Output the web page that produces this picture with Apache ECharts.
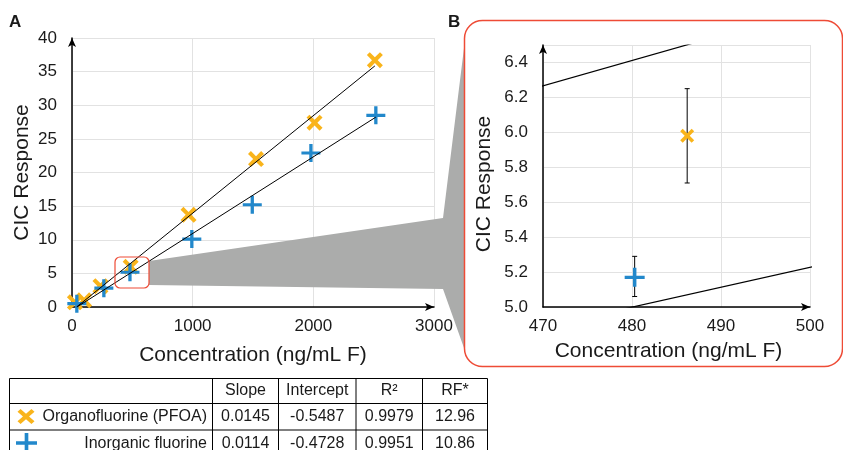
<!DOCTYPE html>
<html>
<head>
<meta charset="utf-8">
<script src="https://cdn.jsdelivr.net/npm/echarts@6/dist/echarts.min.js"></script>
<style>
html, body { margin: 0; padding: 0; background: #fff; }
#chart { width: 843px; height: 450px; }
</style>
</head>
<body>
<div id="chart"></div>
<script>
// calibration points
var orgX = [24, 100, 236, 486.2, 966, 1525, 2010, 2510];
var orgY = [0.7, 1.0, 3.1, 5.98, 13.7, 22.0, 27.4, 36.7];
var inoX = [40, 264, 480.3, 993, 1494, 1980, 2518];
var inoY = [0.5, 2.8, 5.17, 10.1, 15.2, 22.9, 28.5];
// error bars shown in the zoomed panel: [x, low, high]
var orgErr = [[486.2, 5.71, 6.25]];
var inoErr = [[480.3, 5.06, 5.29]];

// fit table
var rowNames = ['Organofluorine (PFOA)', 'Inorganic fluorine'];
var tableHeader = ['Slope', 'Intercept', 'R\u00b2', 'RF*'];
var slope = [0.0145, 0.0114];
var intercept = [-0.5487, -0.4728];
var r2 = [0.9979, 0.9951];
var rf = [12.96, 10.86];
var fitRange = [[38, 2510], [41.5, 2518]];

var ORANGE = '#f9b41b';
var BLUE = '#2288cb';
var RED = '#ee4b36';
var TXT = '#1a1a1a';
var FONT = '"Liberation Sans", Arial, sans-serif';

// marker outlines on a 10x10 box
var xPts = [[0,1.8],[1.8,0],[5,3.2],[8.2,0],[10,1.8],[6.8,5],[10,8.2],[8.2,10],[5,6.8],[1.8,10],[0,8.2],[3.2,5]];
var plusPts = [[4.13,0],[5.87,0],[5.87,4.13],[10,4.13],[10,5.87],[5.87,5.87],[5.87,10],[4.13,10],[4.13,5.87],[0,5.87],[0,4.13],[4.13,4.13]];
function toPath(pts) {
    return 'path://M' + pts.map(function (p) { return p[0] + ',' + p[1]; }).join('L') + 'Z';
}
function placePts(pts, cx, cy, w, h) {
    return pts.map(function (p) { return [cx + (p[0] - 5) * w / 10, cy + (p[1] - 5) * h / 10]; });
}
var xPath = toPath(xPts);
var plusPath = toPath(plusPts);

function zip(xs, ys) {
    return xs.map(function (x, i) { return [x, ys[i]]; });
}
function fitLine(i) {
    return fitRange[i].map(function (x) { return [x, slope[i] * x + intercept[i]]; });
}

function makeX(grid, min, max, interval, gap, pad) {
    return {
        gridIndex: grid, type: 'value', min: min, max: max, interval: interval,
        name: 'Concentration (ng/mL F)', nameLocation: 'middle', nameGap: gap,
        nameTextStyle: { fontSize: 21, color: TXT, fontFamily: FONT, padding: pad },
        axisLine: { show: true, onZero: false, symbol: ['none', 'arrow'], symbolSize: [6, 9],
            lineStyle: { color: '#000', width: 1.5 } },
        axisTick: { show: false },
        axisLabel: { fontSize: 17, color: TXT, fontFamily: FONT, margin: 11,
            formatter: function (v) { return String(v); } },
        splitLine: { show: true, lineStyle: { color: '#e2e2e2', width: 1 } }
    };
}
function makeY(grid, min, max, interval, gap, pad, fmt) {
    return {
        gridIndex: grid, type: 'value', min: min, max: max, interval: interval,
        name: 'CIC Response', nameLocation: 'middle', nameGap: gap,
        nameTextStyle: { fontSize: 21, color: TXT, fontFamily: FONT, padding: pad },
        axisLine: { show: true, onZero: false, symbol: ['none', 'arrow'], symbolSize: [6, 9],
            lineStyle: { color: '#000', width: 1.5 } },
        axisTick: { show: false },
        axisLabel: { fontSize: 17, color: TXT, fontFamily: FONT, margin: 15, formatter: fmt },
        splitLine: { show: true, lineStyle: { color: '#e2e2e2', width: 1 } }
    };
}

function renderErr(params, api) {
    var top = api.coord([api.value(0), api.value(2)]);
    var bot = api.coord([api.value(0), api.value(1)]);
    var c = 2.5;
    var st = { stroke: '#000', lineWidth: 1 };
    return {
        type: 'group',
        children: [
            { type: 'line', shape: { x1: top[0], y1: top[1], x2: bot[0], y2: bot[1] }, style: st },
            { type: 'line', shape: { x1: top[0] - c, y1: top[1], x2: top[0] + c, y2: top[1] }, style: st },
            { type: 'line', shape: { x1: bot[0] - c, y1: bot[1], x2: bot[0] + c, y2: bot[1] }, style: st }
        ]
    };
}

// table graphics
var colX = [9.5, 212.5, 278.5, 356, 422.5, 487.5];
var rowY = [378.5, 403.5, 430, 457];
var rowMid = [391, 417, 443.5];
var tableEls = [];
colX.forEach(function (x) {
    tableEls.push({ type: 'line', shape: { x1: x, y1: rowY[0], x2: x, y2: 460 },
        style: { stroke: '#000', lineWidth: 1 } });
});
rowY.forEach(function (y) {
    tableEls.push({ type: 'line', shape: { x1: colX[0], y1: y, x2: colX[5], y2: y },
        style: { stroke: '#000', lineWidth: 1 } });
});
function cellText(txt, x, y, align) {
    return { type: 'text', style: { text: txt, x: x, y: y, fill: TXT,
        font: '16px ' + FONT, align: align, textAlign: align,
        verticalAlign: 'middle', textVerticalAlign: 'middle' } };
}
tableHeader.forEach(function (h, j) {
    tableEls.push(cellText(h, (colX[j + 1] + colX[j + 2]) / 2, rowMid[0], 'center'));
});
rowNames.forEach(function (n, i) {
    var y = rowMid[i + 1];
    tableEls.push(cellText(n, 207, y, 'right'));
    var vals = [slope[i].toFixed(4), intercept[i].toFixed(4), r2[i].toFixed(4), rf[i].toFixed(2)];
    vals.forEach(function (v, j) {
        tableEls.push(cellText(v, (colX[j + 1] + colX[j + 2]) / 2, y, 'center'));
    });
});
tableEls.push({ type: 'polygon', shape: { points: placePts(xPts, 26, 416.5, 17, 15) },
    style: { fill: ORANGE } });
tableEls.push({ type: 'polygon', shape: { points: placePts(plusPts, 26.5, 443, 21, 20) },
    style: { fill: BLUE } });

var chart = echarts.init(document.getElementById('chart'), null, { renderer: 'canvas' });

var option = {
    animation: false,
    backgroundColor: '#fff',
    textStyle: { fontFamily: FONT },
    grid: [
        { left: 72, right: 409, top: 38, bottom: 143, outerBoundsMode: 'none' },
        { left: 543, right: 33, top: 45, bottom: 143, outerBoundsMode: 'none' }
    ],
    xAxis: [
        makeX(0, 0, 3000, 1000, 38, [0, 0, 0, 0]),
        makeX(1, 470, 500, 10, 34, [0, 16, 0, 0])
    ],
    yAxis: [
        makeY(0, 0, 40, 5, 39, [0, 0, 0, 0]),
        makeY(1, 5, 6.5, 0.2, 48, [0, 16, 0, 0], function (v) {
            return Math.abs(v - 6.5) < 1e-6 ? '' : v.toFixed(1);
        })
    ],
    series: [
        { type: 'scatter', xAxisIndex: 0, yAxisIndex: 0, data: zip(orgX, orgY),
          symbol: xPath, symbolSize: 16, itemStyle: { color: ORANGE, opacity: 1 }, z: 3 },
        { type: 'scatter', xAxisIndex: 0, yAxisIndex: 0, data: zip(inoX, inoY),
          symbol: plusPath, symbolSize: [19, 18], itemStyle: { color: BLUE, opacity: 1 }, z: 3 },
        { type: 'line', xAxisIndex: 0, yAxisIndex: 0, data: fitLine(0), symbol: 'none',
          lineStyle: { color: '#000', width: 1 }, z: 4, silent: true },
        { type: 'line', xAxisIndex: 0, yAxisIndex: 0, data: fitLine(1), symbol: 'none',
          lineStyle: { color: '#000', width: 1 }, z: 4, silent: true },

        { type: 'custom', xAxisIndex: 1, yAxisIndex: 1, data: orgErr.concat(inoErr),
          renderItem: renderErr, encode: { x: 0, y: [1, 2] }, z: 2, clip: true },
        { type: 'scatter', xAxisIndex: 1, yAxisIndex: 1, data: zip(orgX, orgY), clip: true,
          symbol: xPath, symbolSize: 14, itemStyle: { color: ORANGE, opacity: 1 }, z: 3 },
        { type: 'scatter', xAxisIndex: 1, yAxisIndex: 1, data: zip(inoX, inoY), clip: true,
          symbol: plusPath, symbolSize: [20, 19], itemStyle: { color: BLUE, opacity: 1 }, z: 3 },
        { type: 'line', xAxisIndex: 1, yAxisIndex: 1, data: fitLine(0), symbol: 'none', clip: true,
          lineStyle: { color: '#000', width: 1.2 }, z: 4, silent: true },
        { type: 'line', xAxisIndex: 1, yAxisIndex: 1, data: fitLine(1), symbol: 'none', clip: true,
          lineStyle: { color: '#000', width: 1.2 }, z: 4, silent: true }
    ],
    graphic: [
        { type: 'text', z: 10, style: { text: 'A', x: 9, y: 22, fill: TXT, font: 'bold 17px ' + FONT,
            verticalAlign: 'middle', textVerticalAlign: 'middle' } },
        { type: 'text', z: 10, style: { text: 'B', x: 448, y: 22, fill: TXT, font: 'bold 17px ' + FONT,
            verticalAlign: 'middle', textVerticalAlign: 'middle' } },
        { type: 'polygon', z: 1, silent: true,
          shape: { points: [[149, 261], [443, 218], [464, 48], [464, 348], [443, 289], [149, 285]] },
          style: { fill: '#abacab' } },
        { type: 'rect', z: 10, silent: true,
          shape: { x: 115, y: 257, width: 34, height: 31, r: 5 },
          style: { fill: 'none', stroke: RED, lineWidth: 1.2 } },
        { type: 'rect', z: 10, silent: true,
          shape: { x: 464.5, y: 20.5, width: 378, height: 346, r: 18 },
          style: { fill: 'none', stroke: RED, lineWidth: 1.5 } },
        { type: 'group', z: 10, children: tableEls }
    ]
};

chart.setOption(option);
</script>
</body>
</html>
